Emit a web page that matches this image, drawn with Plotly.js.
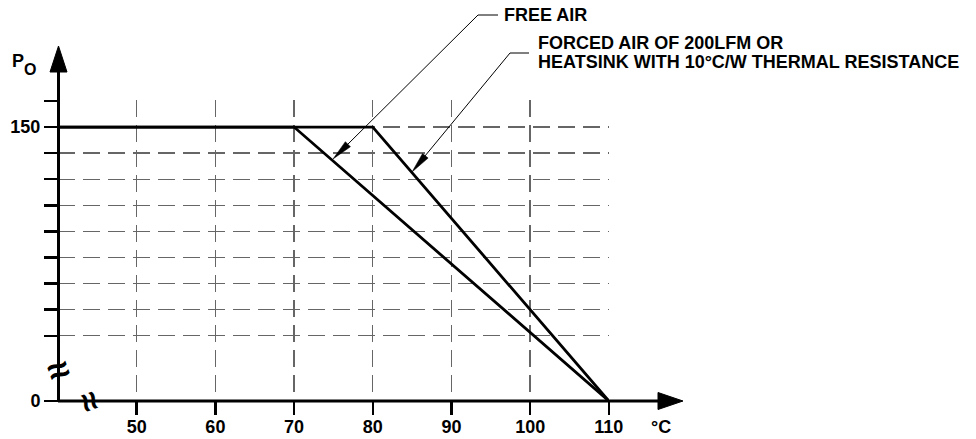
<!DOCTYPE html>
<html>
<head>
<meta charset="utf-8">
<script src="https://cdn.plot.ly/plotly-3.0.1.min.js"></script>
<style>
  html, body { margin: 0; padding: 0; background: #ffffff; }
  #chart { width: 976px; height: 439px; }
</style>
</head>
<body>
<div id="chart"></div>
<script>
// ---- data ----
const freeAirX = [40, 70, 110];
const freeAirY = [150, 150, 0];
const forcedAirX = [40, 80, 110];
const forcedAirY = [150, 150, 0];

const xTickVals = [50, 60, 70, 80, 90, 100, 110];
const xTickText = ['50', '60', '70', '80', '90', '100', '110'];
const yTickVals = [0, 35.71, 50, 64.29, 78.57, 92.86, 107.14, 121.43, 135.71, 150, 164.29];
const yTickText = ['0', '', '', '', '', '', '', '', '', '150', ''];

const labelFreeAir = 'FREE AIR';
const labelForced1 = 'FORCED AIR OF 200LFM OR';
const labelForced2 = 'HEATSINK WITH 10°C/W THERMAL RESISTANCE';
const xUnit = '°C';

// ---- layout geometry (pixels) ----
const L = 58, T = 100, W = 551, H = 301;
const px = (x) => (x - L) / W;
const py = (y) => (T + H - y) / H;
const pt = (x, y) => px(x) + ',' + py(y);
const bold = (s) => s ? '<b>' + s + '</b>' : '';

function arrowHeadPath(tip, from, len, hw) {
  const dx = tip[0] - from[0], dy = tip[1] - from[1];
  const d = Math.hypot(dx, dy);
  const ux = dx / d, uy = dy / d;
  const bx = tip[0] - ux * len, by = tip[1] - uy * len;
  const nx = -uy * hw, ny = ux * hw;
  return 'M' + pt(tip[0], tip[1]) + ' L' + pt(bx + nx, by + ny) + ' L' + pt(bx - nx, by - ny) + ' Z';
}

const font = { family: 'Liberation Sans, Arial, sans-serif', size: 18, color: '#000' };
const gridStyle = { showgrid: true, gridcolor: '#666666', gridwidth: 1.4, griddash: '17px,8px' };

const lineStyle = { color: '#000', width: 2.8 };
const traces = [
  { x: freeAirX, y: freeAirY, type: 'scatter', mode: 'lines', line: lineStyle, cliponaxis: false, hoverinfo: 'skip', name: labelFreeAir },
  { x: forcedAirX, y: forcedAirY, type: 'scatter', mode: 'lines', line: lineStyle, cliponaxis: false, hoverinfo: 'skip', name: labelForced1 }
];

const blackLine = { color: '#000', width: 3 };
const thin = { color: '#000', width: 1 };
const freeTip = [333, 159], freeCorner = [478, 15];
const forcedTip = [412, 172], forcedCorner = [510, 53];

const shapes = [
  // axis lines
  { type: 'line', xref: 'paper', yref: 'paper', x0: px(58), y0: py(401), x1: px(662), y1: py(401), line: blackLine, layer: 'above' },
  { type: 'line', xref: 'paper', yref: 'paper', x0: px(58.5), y0: py(402), x1: px(58.5), y1: py(67), line: blackLine, layer: 'above' },
  // axis arrowheads
  { type: 'path', xref: 'paper', yref: 'paper', path: 'M' + pt(683, 401) + ' L' + pt(658, 392.5) + ' L' + pt(658, 409.5) + ' Z', fillcolor: '#000', line: { color: '#000', width: 1 }, layer: 'above' },
  { type: 'path', xref: 'paper', yref: 'paper', path: 'M' + pt(58.5, 46) + ' L' + pt(50, 72) + ' L' + pt(67, 72) + ' Z', fillcolor: '#000', line: { color: '#000', width: 1 }, layer: 'above' },
  // leader lines
  { type: 'line', xref: 'paper', yref: 'paper', x0: px(freeCorner[0]), y0: py(freeCorner[1]), x1: px(498), y1: py(freeCorner[1]), line: thin },
  { type: 'line', xref: 'paper', yref: 'paper', x0: px(freeCorner[0]), y0: py(freeCorner[1]), x1: px(freeTip[0] + 10), y1: py(freeTip[1] - 10), line: thin },
  { type: 'path', xref: 'paper', yref: 'paper', path: arrowHeadPath(freeTip, freeCorner, 21, 3.6), fillcolor: '#000', line: { color: '#000', width: 0.5 } },
  { type: 'line', xref: 'paper', yref: 'paper', x0: px(forcedCorner[0]), y0: py(forcedCorner[1]), x1: px(529), y1: py(forcedCorner[1]), line: thin },
  { type: 'line', xref: 'paper', yref: 'paper', x0: px(forcedCorner[0]), y0: py(forcedCorner[1]), x1: px(forcedTip[0] + 8), y1: py(forcedTip[1] - 10), line: thin },
  { type: 'path', xref: 'paper', yref: 'paper', path: arrowHeadPath(forcedTip, forcedCorner, 21, 3.6), fillcolor: '#000', line: { color: '#000', width: 0.5 } }
];

const ann = (text, x, y, opts) => Object.assign({ text: bold(text), xref: 'paper', yref: 'paper', x: px(x), y: py(y), showarrow: false, font: font, xanchor: 'left', yanchor: 'middle' }, opts || {});

const annotations = [
  ann(labelFreeAir, 502, 15),
  ann(labelForced1, 536, 43),
  ann(labelForced2, 536, 62),
  ann(xUnit, 661, 427, { xanchor: 'center' }),
  ann('P', 18, 61, { xanchor: 'center', font: Object.assign({}, font, { size: 18 }) }),
  ann('O', 30, 69, { xanchor: 'center', font: Object.assign({}, font, { size: 16 }) }),
  // axis breaks
  ann('≈', 58, 370, { xanchor: 'center', textangle: -20, font: Object.assign({}, font, { size: 38 }) }),
  ann('≈', 90, 401, { xanchor: 'center', textangle: 70, font: Object.assign({}, font, { size: 34 }) })
];

const layout = {
  width: 976, height: 439,
  margin: { l: L, r: 976 - L - W, t: T, b: 439 - T - H, pad: 0 },
  paper_bgcolor: '#fff', plot_bgcolor: '#fff',
  showlegend: false,
  xaxis: Object.assign({
    range: [40, 110.02], tickmode: 'array', tickvals: xTickVals, ticktext: xTickText.map(bold),
    ticks: 'outside', ticklen: 13, tickwidth: 2.5, tickcolor: '#000', ticklabelstandoff: -4,
    showline: false, zeroline: false, tickfont: font, fixedrange: true
  }, gridStyle),
  yaxis: Object.assign({
    range: [0, 164.8], tickmode: 'array', tickvals: yTickVals, ticktext: yTickText.map(bold),
    ticks: 'outside', ticklen: 13, tickwidth: 2.5, tickcolor: '#000',
    showline: false, zeroline: false, tickfont: font, fixedrange: true
  }, gridStyle),
  shapes: shapes,
  annotations: annotations
};

Plotly.newPlot('chart', traces, layout, { staticPlot: true, displayModeBar: false });
</script>
</body>
</html>
